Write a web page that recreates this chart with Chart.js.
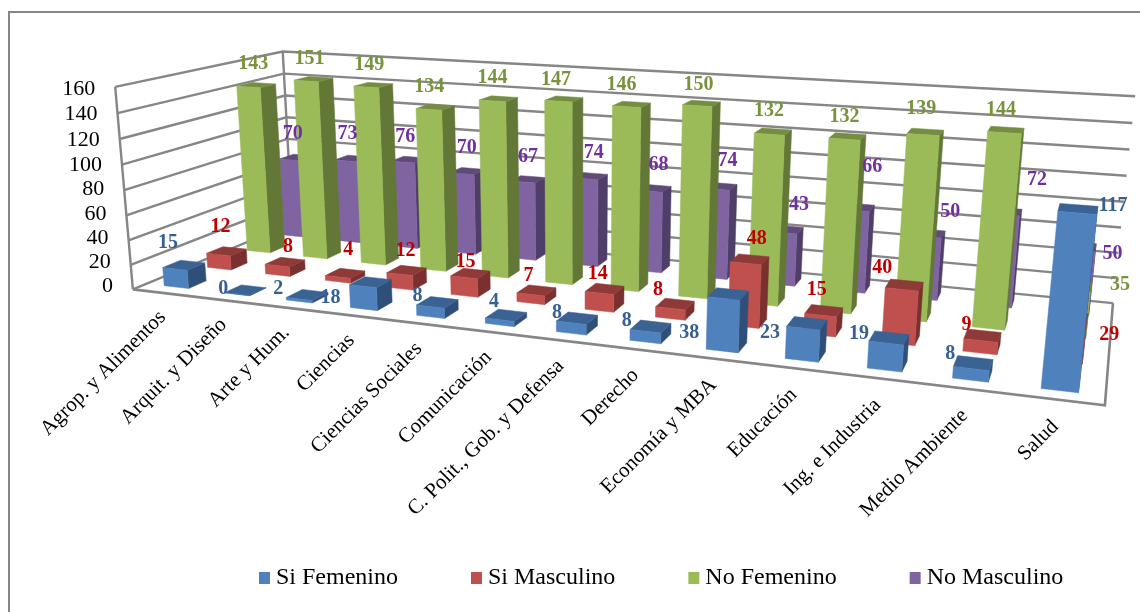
<!DOCTYPE html>
<html><head><meta charset="utf-8">
<script src="https://cdn.jsdelivr.net/npm/chart.js@4"></script>
<style>html,body{margin:0;padding:0;background:#fff}canvas{display:block}</style>
</head><body><canvas id="c" width="1140" height="612"></canvas>
<script>
const categories = ["Agrop. y Alimentos","Arquit. y Diseño","Arte y Hum.","Ciencias","Ciencias Sociales","Comunicación","C. Polit., Gob. y Defensa","Derecho","Economía y MBA","Educación","Ing. e Industria","Medio Ambiente","Salud"];
const seriesNames = ["Si Femenino","Si Masculino","No Femenino","No Masculino"];
const siFemenino = [15,0,2,18,8,4,8,8,38,23,19,8,117];
const siMasculino = [12,8,4,12,15,7,14,8,48,15,40,9,29];
const noFemenino = [143,151,149,134,144,147,146,150,132,132,139,144,35];
const noMasculino = [70,73,76,70,67,74,68,74,43,66,50,72,50];

// camera: where the corners of the 3D box land on the page (u along categories, v up, w into depth)
const boxCorners = [
 [0,0,0,133,287],[1,0,0,1105,407],[0,0,1,292,226],[1,0,1,1113,301],
 [0,1,0,115,88],[0,1,1,283,50],[1,1,1,1135,97]];
function solveCamera(pts){
  const A=[],b=[];
  for(const [u,v,w,x,y] of pts){
    A.push([u,v,w,1,0,0,0,0,-x*u,-x*v,-x*w]);b.push(x);
    A.push([0,0,0,0,u,v,w,1,-y*u,-y*v,-y*w]);b.push(y);
  }
  const n=11,M=[];
  for(let r=0;r<n;r++){M.push([]);for(let c=0;c<=n;c++){let s=0;for(let k=0;k<A.length;k++)s+=A[k][r]*(c<n?A[k][c]:b[k]);M[r].push(s);}}
  for(let i=0;i<n;i++){
    let p=i;for(let r=i+1;r<n;r++)if(Math.abs(M[r][i])>Math.abs(M[p][i]))p=r;
    [M[i],M[p]]=[M[p],M[i]];
    for(let r=0;r<n;r++){if(r===i)continue;const f=M[r][i]/M[i][i];for(let c=i;c<=n;c++)M[r][c]-=f*M[i][c];}
  }
  return M.map((row,i)=>row[n]/row[i]);
}
const cam=solveCamera(boxCorners);
function project(u,v,w){
  const d=cam[8]*u+cam[9]*v+cam[10]*w+1;
  return [(cam[0]*u+cam[1]*v+cam[2]*w+cam[3])/d,(cam[4]*u+cam[5]*v+cam[6]*w+cam[7])/d];
}
const barWidthFrac=0.41, barDepthFrac=0.40;
const faceColors={
 "Si Femenino":{front:"#4F81BD",side:"#2F4F78",top:"#3A6293",label:"#376092"},
 "Si Masculino":{front:"#C0504D",side:"#7A302E",top:"#8E3A38",label:"#C00000"},
 "No Femenino":{front:"#9BBB59",side:"#637837",top:"#748D41",label:"#77933C"},
 "No Masculino":{front:"#8064A2",side:"#4F3E68",top:"#5F4A79",label:"#7030A0"}};
// label placement: nudges (in page pixels) from the point above each bar
const labelLift=[-4,-22];
const nudgeX=[
 [-12,-18,-25,-36,-16,-8,-16,-20,-35,-33,-26,-19,39],
 [-2,7,7,3,-1,-4,-3,-13,11,-3,-18,-12,44],
 [1,0,0,-2,-2,-4,-6,1,0,1,0,-1,50],
 [-1,-1,0,3,4,8,9,12,17,19,26,36,37]];
const nudgeY=[
 [0,21,16,38,16,9,17,16,61,32,18,13,19],
 [-2,7,-1,3,10,7,7,8,2,1,5,11,40],
 [1,2,2,2,1,3,2,3,1,2,-1,2,21],
 [-2,-3,-1,-1,0,-1,-1,-3,-3,-18,1,-9,30]];

function norm(chart,i,zi,val){
  const {x,y,z}=chart.scales;
  const u=(x.getPixelForValue(i)-x.left)/(x.right-x.left);
  const w=(z.getPixelForValue(zi)-z.left)/(z.right-z.left);
  const v=(y.bottom-y.getPixelForValue(val))/(y.bottom-y.top);
  return [u,v,w];
}
function face(ctx,pts,color){
  ctx.beginPath();pts.forEach((p,i)=>i?ctx.lineTo(p[0],p[1]):ctx.moveTo(p[0],p[1]));ctx.closePath();
  ctx.fillStyle=color;ctx.fill();ctx.strokeStyle=color;ctx.lineWidth=.5;ctx.stroke();
}
class Bar3D extends Chart.BarController{
  draw(){
    const chart=this.chart,ctx=chart.ctx,ds=this.getDataset(),zi=this.index;
    const c=faceColors[ds.label];
    const du=barWidthFrac/categories.length/2, dw=barDepthFrac/seriesNames.length/2;
    ds.data.forEach((val,i)=>{
      const [u,v,w]=norm(chart,i,zi,val);
      const a=project(u-du,0,w-dw),b=project(u+du,0,w-dw),e=project(u+du,0,w+dw);
      const A=project(u-du,v,w-dw),B=project(u+du,v,w-dw),E=project(u+du,v,w+dw),F=project(u-du,v,w+dw);
      face(ctx,[b,e,E,B],c.side);
      face(ctx,[A,B,E,F],c.top);
      face(ctx,[a,b,B,A],c.front);
    });
  }
}
Bar3D.id="bar3d";
Bar3D.defaults=Chart.BarController.defaults;
Bar3D.overrides=Chart.BarController.overrides;
Chart.register(Bar3D);

const line=(ctx,pts,col,lw)=>{ctx.beginPath();pts.forEach((p,i)=>i?ctx.lineTo(p[0],p[1]):ctx.moveTo(p[0],p[1]));ctx.strokeStyle=col;ctx.lineWidth=lw;ctx.stroke();};
const GRID="#868686";
const box3d={
  id:"box3d",
  beforeDatasetsDraw(chart){
    const ctx=chart.ctx,y=chart.scales.y;
    ctx.save();
    line(ctx,[[9,612],[9,12],[1140,12]],GRID,2);
    y.ticks.forEach(t=>{
      const v=(y.bottom-y.getPixelForValue(t.value))/(y.bottom-y.top);
      line(ctx,[project(0,v,0),project(0,v,1),project(1,v,1)],GRID,2.4);
    });
    line(ctx,[project(0,0,0),project(0,1,0)],GRID,2.4);
    line(ctx,[project(0,0,1),project(0,1,1)],GRID,2.4);
    line(ctx,[project(0,0,0),project(1,0,0),project(1,0,1)],GRID,2.6);
    // value axis labels follow the front-left edge
    ctx.fillStyle="#000";ctx.font="22px 'Liberation Serif'";ctx.textAlign="right";ctx.textBaseline="middle";
    y.ticks.forEach(t=>{
      const v=(y.bottom-y.getPixelForValue(t.value))/(y.bottom-y.top);
      const p=project(0,v,0);
      ctx.fillText(String(t.value),p[0]-20,p[1]+v*5-3);
    });
    // category labels under the front edge
    ctx.font="21px 'Liberation Serif'";
    const x=chart.scales.x;
    categories.forEach((name,i)=>{
      const u=(x.getPixelForValue(i)-x.left)/(x.right-x.left);
      const p=project(u,0,0);
      ctx.save();ctx.translate(p[0]-3*u,p[1]+21+3*u);ctx.rotate(-Math.PI/4);
      ctx.textAlign="right";ctx.textBaseline="middle";ctx.fillText(name,0,0);ctx.restore();
    });
    ctx.restore();
  },
  afterDatasetsDraw(chart){
    const ctx=chart.ctx;
    ctx.save();ctx.font="bold 20px 'Liberation Serif'";ctx.textAlign="center";ctx.textBaseline="middle";
    chart.data.datasets.forEach((ds,zi)=>{
      ctx.fillStyle=faceColors[ds.label].label;
      ds.data.forEach((val,i)=>{
        const [u,v,w]=norm(chart,i,zi,val);
        const p=project(u,v,w);
        ctx.fillText(String(val),p[0]+labelLift[0]+nudgeX[zi][i],p[1]+labelLift[1]+nudgeY[zi][i]);
      });
    });
    ctx.restore();
  },
  afterDraw(chart){
    // legend swatches sit closer to their text than the library's box gap allows
    const ctx=chart.ctx,lg=chart.legend;
    ctx.save();
    lg.legendItems.forEach((it,i)=>{
      const h=lg.legendHitBoxes[i];
      ctx.fillStyle=it.fillStyle;
      ctx.fillRect(h.left-5,h.top+h.height/2-6,11,12);
    });
    ctx.restore();
  }
};
const seriesValues=[siFemenino,siMasculino,noFemenino,noMasculino];
new Chart(document.getElementById("c"),{
  type:"bar3d",
  data:{labels:categories,datasets:seriesNames.map((n,i)=>({label:n,data:seriesValues[i],backgroundColor:faceColors[n].front,clip:false}))},
  options:{
    responsive:false,animation:false,
    layout:{padding:{left:186,right:-20,bottom:12}},
    scales:{
      x:{type:"category",labels:categories,offset:true,display:false},
      z:{type:"category",axis:"x",labels:seriesNames,offset:true,display:false},
      y:{type:"linear",min:0,max:160,ticks:{stepSize:20},display:false}
    },
    plugins:{legend:{position:"bottom",align:"start",labels:{boxWidth:0,boxHeight:0,padding:78,color:"#000",font:{family:"Liberation Serif",size:24}}},tooltip:{enabled:false}}
  },
  plugins:[box3d]
});
</script></body></html>
